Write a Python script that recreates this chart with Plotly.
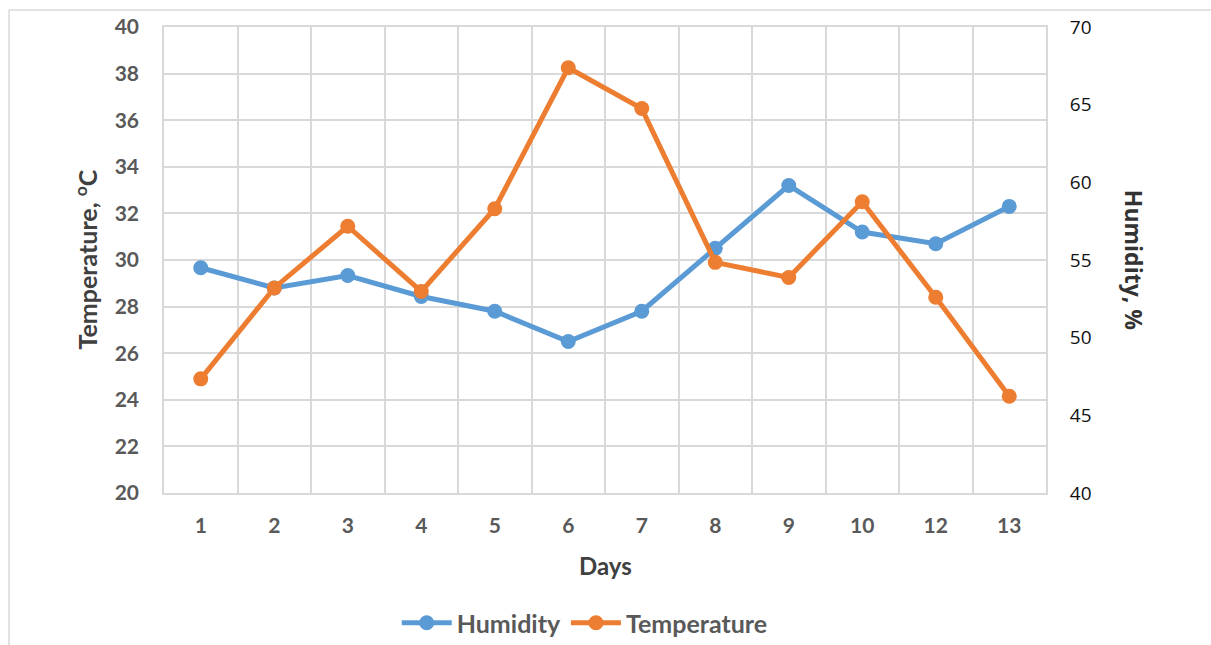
import plotly.graph_objects as go

# Daily readings
days = ["1", "2", "3", "4", "5", "6", "7", "8", "9", "10", "12", "13"]
humidity = [54.5, 53.2, 54.0, 52.65, 51.7, 49.75, 51.7, 55.75, 59.8, 56.8, 56.05, 58.45]
temperature = [24.9, 28.8, 31.45, 28.65, 32.2, 38.25, 36.5, 29.9, 29.25, 32.5, 28.4, 24.15]

temp_ticks = list(range(20, 41, 2))
hum_ticks = list(range(40, 71, 5))

BLUE = "#5B9BD5"
ORANGE = "#ED7D31"
GRID = "#D9D9D9"
LABEL = "#595959"
FONT = "Lato"

fig = go.Figure()

fig.add_trace(go.Scatter(
    x=days, y=humidity, name="Humidity", mode="lines+markers",
    line=dict(color=BLUE, width=5), marker=dict(color=BLUE, size=15),
    yaxis="y",
))
fig.add_trace(go.Scatter(
    x=days, y=temperature, name="Temperature", mode="lines+markers",
    line=dict(color=ORANGE, width=5), marker=dict(color=ORANGE, size=15),
    yaxis="y2",
))

fig.update_layout(
    width=1211, height=645,
    margin=dict(l=164, r=165, t=27, b=152, autoexpand=False),
    paper_bgcolor="white", plot_bgcolor="white",
    showlegend=True,
    legend=dict(
        orientation="h", x=0.477, xanchor="center", y=-0.279, yanchor="middle",
        font=dict(family=FONT, size=25, color=LABEL, weight="bold"),
        itemwidth=50, traceorder="normal",
    ),
    xaxis=dict(
        type="category", range=[-0.5, 11.5], tickson="boundaries",
        showgrid=True, gridcolor=GRID, gridwidth=1.5,
        showline=True, linecolor=GRID, linewidth=1.5, mirror=True,
        ticks="", ticklabelstandoff=13,
        tickfont=dict(family=FONT, size=21, color=LABEL, weight="bold"),
        zeroline=False,
    ),
    yaxis=dict(
        side="right", range=[40, 70], tickvals=hum_ticks,
        showgrid=False, zeroline=False,
        ticks="outside", ticklen=19, tickcolor="rgba(0,0,0,0)",
        tickfont=dict(family="Open Sans", size=19, color="#111111"),
        showline=False,
    ),
    yaxis2=dict(
        side="left", overlaying="y", range=[20, 40], tickvals=temp_ticks,
        showgrid=True, gridcolor=GRID, gridwidth=1.5, zeroline=False,
        ticks="outside", ticklen=19, tickcolor="rgba(0,0,0,0)",
        tickfont=dict(family=FONT, size=21, color=LABEL, weight="bold"),
        showline=True, linecolor=GRID, linewidth=1.5, mirror=True,
    ),
    annotations=[
        dict(text="Days", xref="paper", yref="paper", x=0.5, y=-0.155,
             xanchor="center", yanchor="middle", showarrow=False,
             font=dict(family=FONT, size=24, color="#404040", weight="bold")),
        dict(text="Temperature, <sup>o</sup>C", xref="paper", yref="paper",
             x=-0.089, y=0.5, xanchor="center", yanchor="middle", textangle=-90,
             showarrow=False,
             font=dict(family=FONT, size=25, color="#404040", weight="bold")),
        dict(text="Humidity, %", xref="paper", yref="paper",
             x=1.1, y=0.5, xanchor="center", yanchor="middle", textangle=90,
             showarrow=False,
             font=dict(family="Open Sans", size=23, color="#333333", weight="bold")),
    ],
    shapes=[
        # outer chart frame
        dict(type="line", xref="paper", yref="paper", x0=-0.1757, x1=1.2, y0=1.0365, y1=1.0365,
             line=dict(color=GRID, width=1.5)),
        dict(type="line", xref="paper", yref="paper", x0=-0.1757, x1=-0.1757, y0=1.0365, y1=-0.4,
             line=dict(color=GRID, width=1.5)),
    ],
)

fig.write_html("out.html")
